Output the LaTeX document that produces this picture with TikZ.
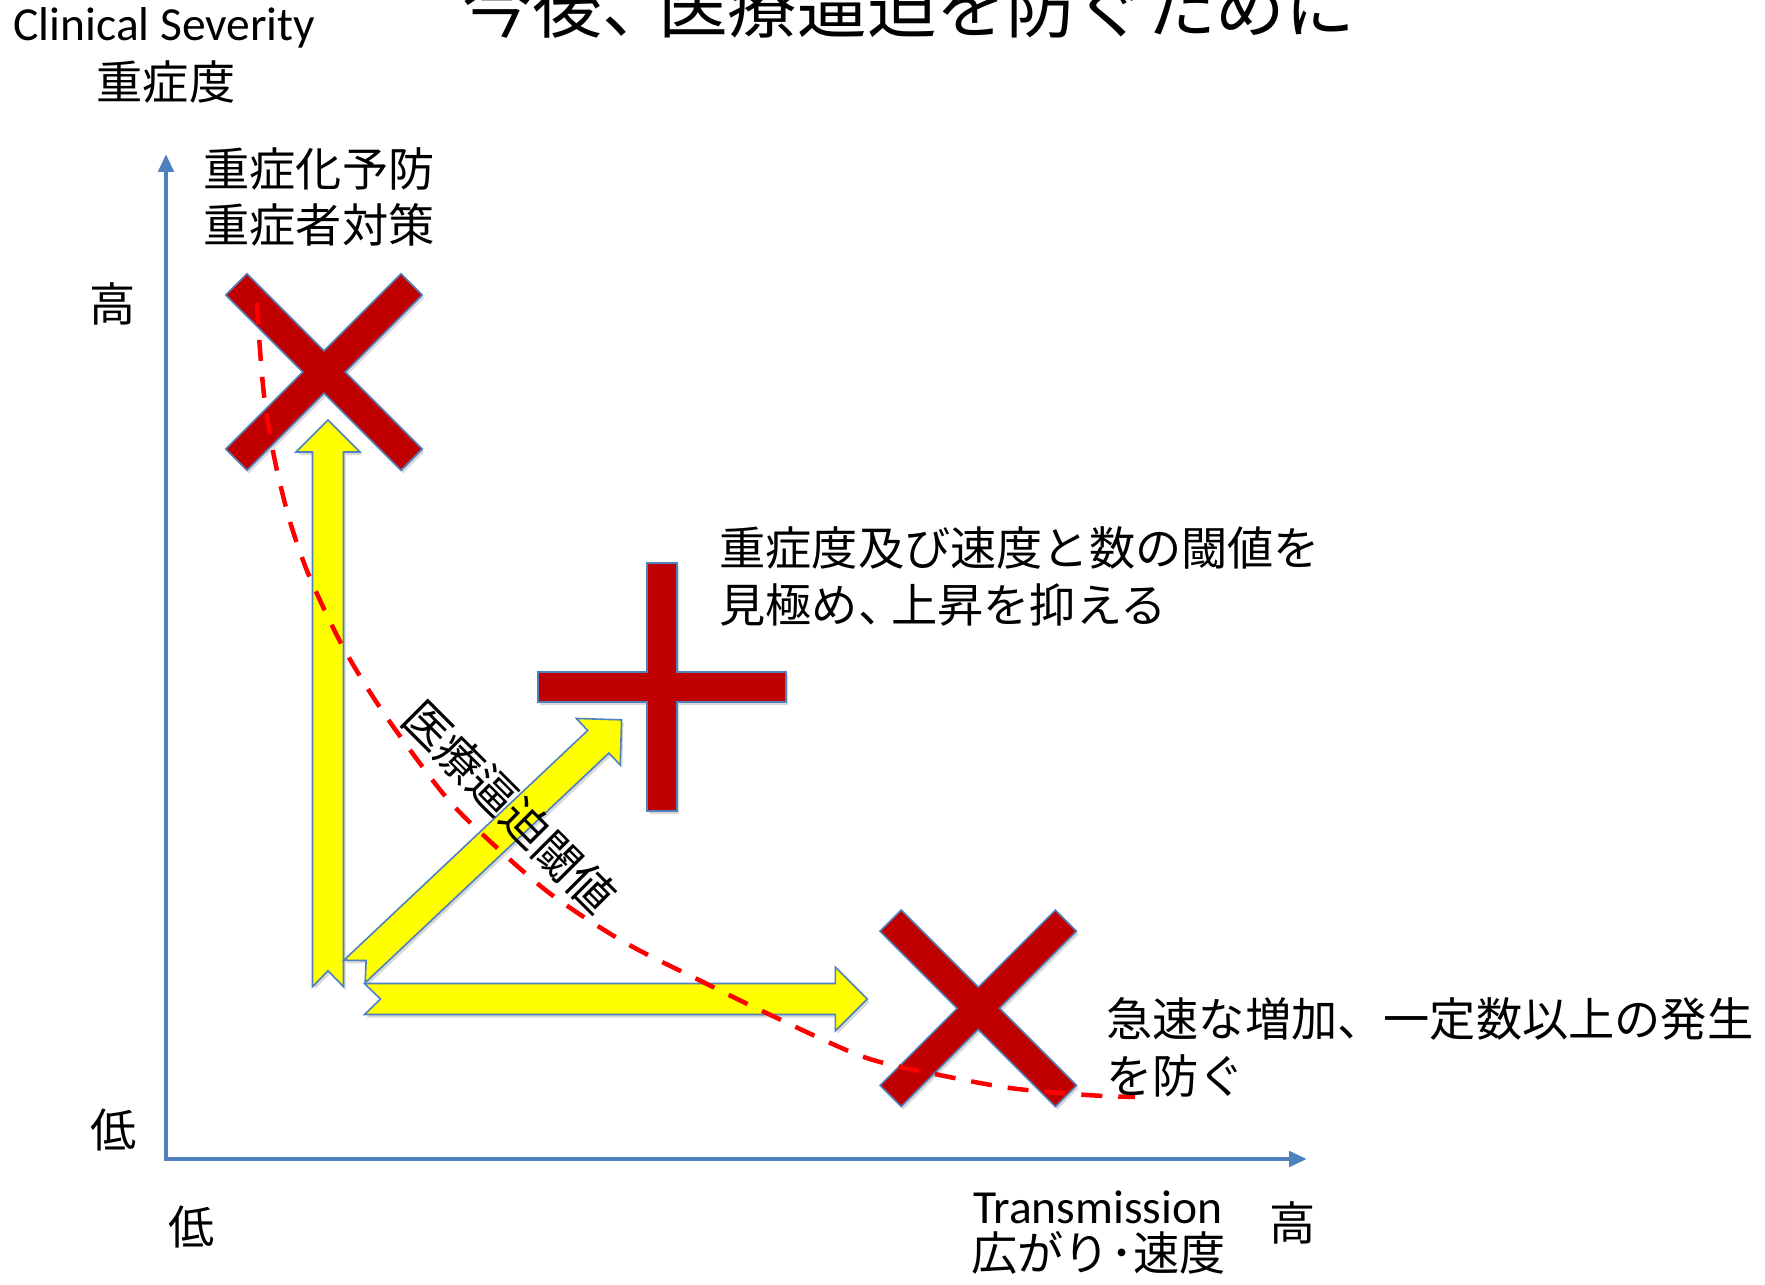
\documentclass[tikz,border=0pt]{standalone}
\usepackage{fontspec}
\setmainfont{Carlito}
\newfontfamily\jp{Noto Sans CJK JP}
\usetikzlibrary{arrows.meta}
\definecolor{axisblue}{HTML}{4F81BD}
\definecolor{xred}{HTML}{C00000}
\definecolor{ylw}{HTML}{FFFF00}
\definecolor{dashred}{HTML}{FF0000}
\tikzset{
  axisline/.style={draw=axisblue, line width=2.25pt, line join=miter},
  crossfill/.style={fill=xred, draw=axisblue, line width=0.8pt, line join=miter},
  fatfill/.style={fill=ylw, draw=axisblue, line width=0.8pt, line join=miter},
  shadowfill/.style={fill=black, opacity=0.15},
  threshold/.style={draw=dashred, line width=2.25pt, dash pattern=on 10.5pt off 8pt},
  jptext/.style={font=\jp\fontsize{23.1pt}{27pt}\selectfont, inner sep=0pt, anchor=west},
  entext/.style={font=\fontsize{23.75pt}{28pt}\selectfont, inner sep=0pt, anchor=base west},
}
\newcommand\xcrossshape[2]{%
  \begin{scope}[shift={#1},shift={(2,3)},rotate=#2]
    \fill[shadowfill] (-15,124) -- (15,124) -- (15,15) -- (124,15) -- (124,-15) -- (15,-15) -- (15,-124) -- (-15,-124) -- (-15,-15) -- (-124,-15) -- (-124,15) -- (-15,15) -- cycle;
  \end{scope}
  \begin{scope}[shift={#1},rotate=#2]
    \path[crossfill] (-15,124) -- (15,124) -- (15,15) -- (124,15) -- (124,-15) -- (15,-15) -- (15,-124) -- (-15,-124) -- (-15,-15) -- (-124,-15) -- (-124,15) -- (-15,15) -- cycle;
  \end{scope}}
\newcommand\fatarrowshape[3]{%
  \begin{scope}[shift={#1},shift={(2,3)},rotate=#2]
    \fill[shadowfill] (0,15.5) -- ({#3-32},15.5) -- ({#3-32},32) -- (#3,0) -- ({#3-32},-32) -- ({#3-32},-15.5) -- (0,-15.5) -- (16,0) -- cycle;
  \end{scope}
  \begin{scope}[shift={#1},rotate=#2]
    \path[fatfill] (0,15.5) -- ({#3-32},15.5) -- ({#3-32},32) -- (#3,0) -- ({#3-32},-32) -- ({#3-32},-15.5) -- (0,-15.5) -- (16,0) -- cycle;
  \end{scope}}
\begin{document}
\begin{tikzpicture}[x=0.5pt,y=-0.5pt]
\useasboundingbox (0,0) rectangle (1765,1284);
% axes
\coordinate (O) at (166,1159);
\coordinate (ytop) at (166,154);
\coordinate (xend) at (1307,1159);
\draw[axisline, {Triangle[length=8.9pt,width=7.5pt]}-{Triangle[length=8.9pt,width=7.5pt]}] (ytop) -- (O) -- (xend);
% red crosses
\coordinate (X1) at (324,372);
\coordinate (X2) at (978.3,1008.3);
\coordinate (P1) at (662,687);
\xcrossshape{(X1)}{45}
\xcrossshape{(X2)}{45}
\xcrossshape{(P1)}{0}
% yellow arrows
\coordinate (vA) at (328,986.7);
\coordinate (hA) at (364.5,999);
\coordinate (dA) at (354.5,971.5);
\fatarrowshape{(vA)}{90}{566.7}
\fatarrowshape{(dA)}{43.3}{367}
\fatarrowshape{(hA)}{0}{502.8}
% threshold curve
\draw[threshold] plot[smooth, tension=0.5] coordinates {(257,303) (260,350) (264,395) (270,435) (278,475) (291,525) (310,578) (343,647) (383,712) (441,791) (479,831) (548,892) (624,942) (701,981) (758,1009) (861,1056) (935,1074) (1010,1088) (1087,1095) (1135,1097)};
% texts
\node[font=\jp\fontsize{34.85pt}{40pt}\selectfont, inner sep=0pt] (title) at (909,6) {今後、\kern-0.2em 医療逼迫を防ぐために};
\node[entext] (cs) at (13,40.5) {Clinical Severity};
\node[jptext, anchor=center] (sev) at (166,81.5) {重症度};
\node[jptext, anchor=center] (yhigh) at (112.6,304) {高};
\node[jptext, anchor=center] (ylow) at (113.3,1130) {低};
\node[jptext, anchor=center] (xlow) at (191.7,1226.7) {低};
\node[jptext, anchor=center] (xhigh) at (1293,1223) {高};
\node[entext] (tr) at (973,1223) {Transmission};
\node[jptext] (tr2) at (971,1253) {広がり･速度};
\node[jptext] (a1) at (203,169) {重症化予防};
\node[jptext] (a2) at (203,225) {重症者対策};
\node[jptext] (b1) at (719,548) {重症度及び速度と数の閾値を};
\node[jptext] (b2) at (719,605) {見極め、\kern-0.28em 上昇を抑える};
\node[jptext] (c1) at (1106,1019) {急速な増加、一定数以上の発生};
\node[jptext] (c2) at (1106,1076) {を防ぐ};
\node[jptext, anchor=center, rotate=-45] (thr) at (509.6,807.2) {医療逼迫閾値};
\end{tikzpicture}
\end{document}
